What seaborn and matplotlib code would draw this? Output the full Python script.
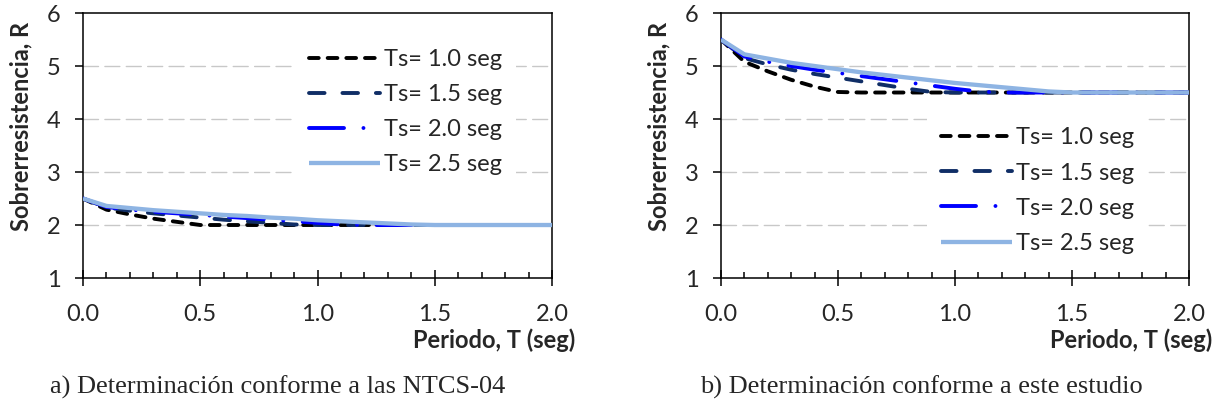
import numpy as np
import pandas as pd
import matplotlib
matplotlib.use("Agg")
import matplotlib.pyplot as plt
import seaborn as sns
from matplotlib.ticker import MultipleLocator, FormatStrFormatter

# ==========================================
# 1. Data
# ==========================================
periodo = [0.0, 0.1, 0.2, 0.3, 0.4, 0.5, 0.6, 0.7, 0.8, 0.9, 1.0,
           1.1, 1.2, 1.3, 1.4, 1.5, 2.0]

# a) NTCS-04
r_ntcs_10 = [2.50, 2.29, 2.20, 2.12, 2.06, 2.00, 2.00, 2.00, 2.00, 2.00, 2.00,
             2.00, 2.00, 2.00, 2.00, 2.00, 2.00]
r_ntcs_15 = [2.50, 2.33, 2.27, 2.22, 2.18, 2.14, 2.10, 2.07, 2.04, 2.01, 2.00,
             2.00, 2.00, 2.00, 2.00, 2.00, 2.00]
r_ntcs_20 = [2.50, 2.34, 2.29, 2.25, 2.22, 2.19, 2.16, 2.13, 2.10, 2.07, 2.04,
             2.01, 2.00, 2.00, 2.00, 2.00, 2.00]
r_ntcs_25 = [2.50, 2.36, 2.32, 2.28, 2.25, 2.22, 2.19, 2.17, 2.14, 2.12, 2.09,
             2.07, 2.05, 2.03, 2.01, 2.00, 2.00]

# b) este estudio
r_est_10 = [5.50, 5.08, 4.90, 4.74, 4.61, 4.51, 4.50, 4.50, 4.50, 4.50, 4.50,
            4.50, 4.50, 4.50, 4.50, 4.50, 4.50]
r_est_15 = [5.50, 5.15, 5.03, 4.93, 4.85, 4.78, 4.71, 4.64, 4.57, 4.51, 4.50,
            4.50, 4.50, 4.50, 4.50, 4.50, 4.50]
r_est_20 = [5.50, 5.18, 5.08, 5.00, 4.93, 4.87, 4.81, 4.75, 4.69, 4.63, 4.57,
            4.52, 4.50, 4.50, 4.50, 4.50, 4.50]
r_est_25 = [5.50, 5.22, 5.14, 5.06, 5.00, 4.94, 4.88, 4.83, 4.78, 4.73, 4.68,
            4.64, 4.60, 4.56, 4.52, 4.50, 4.50]

labels = ["Ts= 1.0 seg", "Ts= 1.5 seg", "Ts= 2.0 seg", "Ts= 2.5 seg"]
captions = ["a) Determinación conforme a las NTCS-04",
            "b) Determinación conforme a este estudio"]

# ==========================================
# 2. Styling
# ==========================================
sns.set_theme(style="white")
plt.rcParams['font.family'] = ['Lato', 'DejaVu Sans']
plt.rcParams['lines.dash_capstyle'] = 'round'
plt.rcParams['lines.solid_capstyle'] = 'butt'

FS = 17
colors = ["#000000", "#102E66", "#0000FF", "#8EB4E3"]
styles = [(0, (2.5, 2.3)), (0, (4.0, 4.6)), (0, (9.0, 5.0, 0.01, 5.0)), "-"]
widths = [2.8, 2.8, 2.8, 3.1]

fig = plt.figure(figsize=(12.17, 4.08), dpi=100)
ax_a = fig.add_axes([0.0682, 0.3186, 0.3854, 0.6495])
ax_b = fig.add_axes([0.5924, 0.3186, 0.3846, 0.6495])

panels = [
    (ax_a, [r_ntcs_10, r_ntcs_15, r_ntcs_20, r_ntcs_25], (0.452, 0.918)),
    (ax_b, [r_est_10, r_est_15, r_est_20, r_est_25], (0.44, 0.622)),
]

for ax, series, leg_pos in panels:
    for lab, vals, c, ls, lw in zip(labels, series, colors, styles, widths):
        sns.lineplot(x=periodo, y=vals, ax=ax, color=c, linestyle=ls,
                     linewidth=lw, label=lab, zorder=3)

    ax.set_xlim(0, 2)
    ax.set_ylim(1, 6)
    ax.xaxis.set_major_locator(MultipleLocator(0.5))
    ax.xaxis.set_minor_locator(MultipleLocator(0.1))
    ax.yaxis.set_major_locator(MultipleLocator(1))
    ax.xaxis.set_major_formatter(FormatStrFormatter('%.1f'))

    for yv in [2, 3, 4, 5]:
        ax.axhline(yv, color="#C8C8C8", lw=1.0, linestyle=(0, (10.8, 4.6)), zorder=1)

    for s in ax.spines.values():
        s.set_color("black")
        s.set_linewidth(1.1)

    ax.tick_params(axis='y', which='major', direction='out', length=6, width=1.1,
                   pad=10, labelsize=FS, left=True, color='black')
    ax.tick_params(axis='x', which='major', direction='inout', length=11, width=1.1,
                   pad=13, labelsize=FS, bottom=True, color='black')
    ax.tick_params(axis='x', which='minor', direction='in', length=4.5, width=1.1,
                   bottom=True, color='black')

    ax.set_xlabel("Periodo, T (seg)", fontsize=FS, fontweight='bold',
                  ha='right', va='center')
    ax.xaxis.set_label_coords(1.049, -0.234)
    ax.set_ylabel("Sobrerresistencia, R", fontsize=FS, fontweight='bold',
                  ha='center', va='center')
    ax.yaxis.set_label_coords(-0.132, 0.572)

    leg = ax.legend(loc='upper left', bbox_to_anchor=leg_pos, fontsize=FS,
                    frameon=True, facecolor='white', edgecolor='none',
                    framealpha=1, fancybox=False, handlelength=3.0,
                    handletextpad=0.17, labelspacing=0.6, borderpad=0.6,
                    borderaxespad=0)
    leg.set_zorder(5)

fig.text(50 / 1217, 1 - 387 / 408, captions[0], fontsize=19,
         family=['Liberation Serif'], ha='left', va='center')
fig.text(700 / 1217, 1 - 387 / 408, captions[1], fontsize=19,
         family=['Liberation Serif'], ha='left', va='center')

fig.savefig("out.png", dpi=100)
